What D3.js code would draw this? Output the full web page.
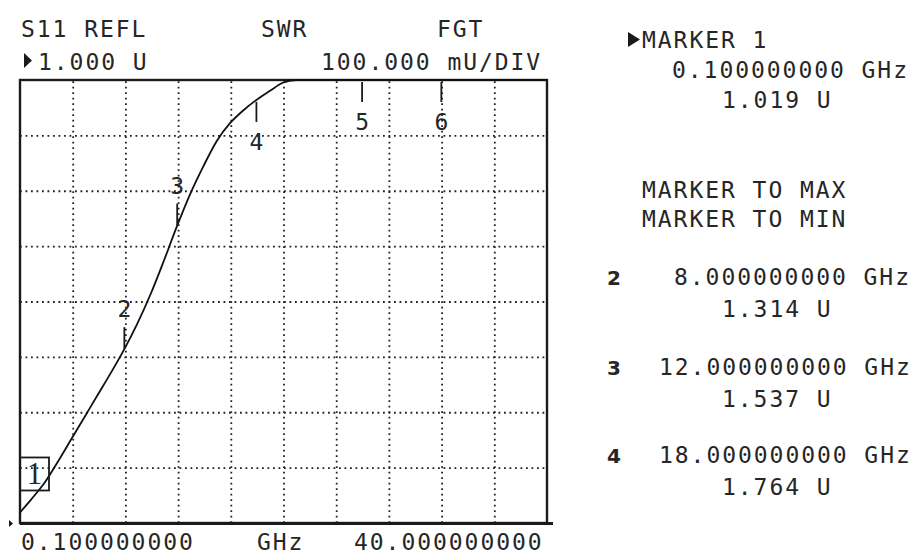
<!DOCTYPE html>
<html>
<head>
<meta charset="utf-8">
<script src="https://cdn.jsdelivr.net/npm/d3@7"></script>
<style>
  body { margin: 0; background: #fff; }
  text { font-family: 'DejaVu Sans Mono', monospace; fill: #262626; }
</style>
</head>
<body>
<script>
// TRACE (S11 SWR)
const freqGHz = [0.1, 1, 2, 3, 4, 5, 6, 7, 8, 9, 10, 11, 12, 13, 14, 15, 16, 17, 18, 19, 20, 21, 22, 24, 26, 28, 30, 32, 34, 36, 38, 40];
const swrU = [1.019, 1.044, 1.074, 1.112, 1.152, 1.192, 1.232, 1.272, 1.314, 1.361, 1.414, 1.474, 1.537, 1.595, 1.645, 1.69, 1.722, 1.745, 1.764, 1.78, 1.795, 1.803, 1.81, 1.83, 1.85, 1.87, 1.88, 1.9, 1.91, 1.93, 1.94, 1.95];

// MARKERS
const markerIds = ['1', '2', '3', '4', '5', '6'];
const markerFreq = [0.1, 8, 12, 18, 26, 32];
const markerSwr = [1.019, 1.314, 1.537, 1.764, 1.85, 1.9];

// READOUTS
const readoutIds = ['2', '3', '4'];
const readoutFreq = ['8.000000000 GHz', '12.000000000 GHz', '18.000000000 GHz'];
const readoutVal = ['1.314 U', '1.537 U', '1.764 U'];

// SCALE
const startGHz = 0.1;
const stopGHz = 40;
const refU = 1.0;
const perDivU = 0.1;
const xDivs = 10;
const yDivs = 8;

const plotLeft = 20;
const plotRight = 547;
const plotTop = 80;
const plotBottom = 523;

const x = d3.scaleLinear().domain([startGHz, stopGHz]).range([plotLeft, plotRight]);
const y = d3.scaleLinear().domain([refU, refU + yDivs * perDivU]).range([plotBottom, plotTop]).clamp(true);

const svg = d3
  .select('body')
  .append('svg')
  .attr('width', 911)
  .attr('height', 555);

svg.append('rect').attr('width', 911).attr('height', 555).attr('fill', '#fff');

// GRID
const xGrid = d3.range(1, xDivs).map((i) => startGHz + (i * (stopGHz - startGHz)) / xDivs);
const yGrid = d3.range(1, yDivs).map((i) => refU + i * perDivU);

svg
  .append('g')
  .attr('transform', `translate(0, ${plotBottom})`)
  .call(d3.axisBottom(x).tickValues(xGrid).tickSize(-(plotBottom - plotTop)).tickFormat(''))
  .call((g) => g.select('.domain').remove())
  .selectAll('line')
  .attr('stroke', '#222')
  .attr('stroke-width', 1.8)
  .attr('stroke-dasharray', '1.8 3.7');

svg
  .append('g')
  .attr('transform', `translate(${plotLeft}, 0)`)
  .call(d3.axisLeft(y).tickValues(yGrid).tickSize(-(plotRight - plotLeft)).tickFormat(''))
  .call((g) => g.select('.domain').remove())
  .selectAll('line')
  .attr('stroke', '#222')
  .attr('stroke-width', 1.8)
  .attr('stroke-dasharray', '1.8 3.7');

// FRAME
svg
  .append('rect')
  .attr('x', plotLeft)
  .attr('y', plotTop)
  .attr('width', plotRight - plotLeft)
  .attr('height', plotBottom - plotTop)
  .attr('fill', 'none')
  .attr('stroke', '#1a1a1a')
  .attr('stroke-width', 2.4);

svg
  .append('line')
  .attr('x1', plotLeft)
  .attr('x2', plotRight + 6)
  .attr('y1', plotBottom + 0.5)
  .attr('y2', plotBottom + 0.5)
  .attr('stroke', '#1a1a1a')
  .attr('stroke-width', 3);

// reference position arrow
svg
  .append('path')
  .attr('d', `M 9 ${plotBottom - 3} L 9 ${plotBottom + 4} L 13 ${plotBottom + 0.5} Z`)
  .attr('fill', '#1a1a1a');

// TRACE
const line = d3
  .line()
  .x((d, i) => x(freqGHz[i]))
  .y((d) => y(d))
  .curve(d3.curveMonotoneX);

svg
  .append('path')
  .attr('d', line(swrU))
  .attr('fill', 'none')
  .attr('stroke', '#111')
  .attr('stroke-width', 1.8);

// MARKERS
markerIds.forEach((id, i) => {
  const mx = x(markerFreq[i]);
  const my = y(markerSwr[i]);

  if (i === 0) {
    // active marker: boxed number
    svg
      .append('rect')
      .attr('x', mx)
      .attr('y', my - 55)
      .attr('width', 29)
      .attr('height', 33)
      .attr('fill', 'none')
      .attr('stroke', '#1a1a1a')
      .attr('stroke-width', 1.8);
    svg
      .append('text')
      .attr('x', mx + 14.5)
      .attr('y', my - 28)
      .attr('text-anchor', 'middle')
      .style('font-family', 'Liberation Serif, serif')
      .attr('font-size', 31)
      .text(id);
    return;
  }

  const down = my - 55 < plotTop;
  const dir = down ? 1 : -1;

  svg
    .append('line')
    .attr('x1', mx)
    .attr('x2', mx)
    .attr('y1', my + (down ? 2 : 0))
    .attr('y2', my + dir * 22)
    .attr('stroke', '#1a1a1a')
    .attr('stroke-width', 1.8);

  svg
    .append('text')
    .attr('x', mx)
    .attr('y', down ? my + 50 : my - 32)
    .attr('text-anchor', 'middle')
    .attr('font-size', 23)
    .text(id);
});

// TEXT
const label = (t, tx, ty, size = 23, spacing = 1.95) =>
  svg
    .append('text')
    .attr('x', tx)
    .attr('y', ty)
    .attr('font-size', size)
    .attr('letter-spacing', spacing)
    .text(t);

label('S11 REFL', 21, 37);
label('SWR', 261, 37);
label('FGT', 437, 37);

svg.append('path').attr('d', 'M 24 53 L 24 68 L 32 60.5 Z').attr('fill', '#1a1a1a');
label('1.000 U', 38, 70);
label('100.000 mU/DIV', 321, 70);

label('0.100000000', 21, 550);
label('GHz', 257, 550);
label('40.000000000', 354, 550);

// READOUT PANEL
svg.append('path').attr('d', 'M 628 32 L 628 47 L 640 39.5 Z').attr('fill', '#1a1a1a');
label('MARKER 1', 642, 48);
label('0.100000000 GHz', 672, 78);
label('1.019 U', 722, 108);

label('MARKER TO MAX', 642, 198);
label('MARKER TO MIN', 642, 227);

readoutIds.forEach((id, i) => {
  const base = [285, 375, 463][i];
  svg
    .append('text')
    .attr('x', 607)
    .attr('y', base)
    .attr('font-size', 20)
    .attr('font-weight', 'bold')
    .style('font-family', 'DejaVu Sans, sans-serif')
    .text(id);
  label(readoutFreq[i], id === '2' ? 674 : 659, base);
  label(readoutVal[i], 722, base + 32);
});
</script>
</body>
</html>
